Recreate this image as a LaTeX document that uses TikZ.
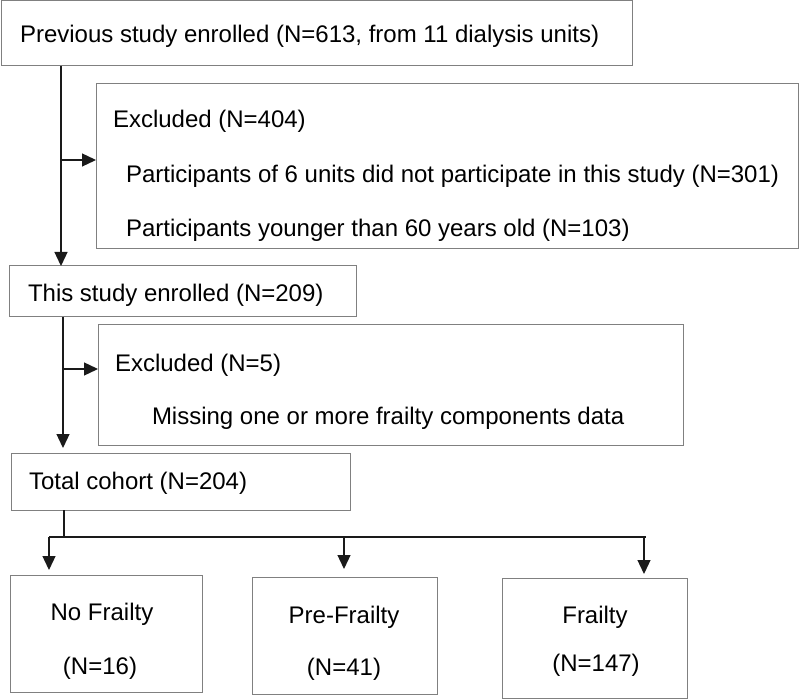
\documentclass[tikz,border=0pt]{standalone}
\usepackage{fontspec}
\setmainfont{Liberation Sans}
\usetikzlibrary{arrows.meta}
\definecolor{boxgray}{HTML}{808080}
\definecolor{linec}{HTML}{1A1A1A}
\begin{document}
\begin{tikzpicture}[x=1pt,y=-1pt,
  box/.style={draw=boxgray, line width=1pt, inner sep=0pt, outer sep=0pt, anchor=north west},
  lbl/.style={anchor=base west, inner sep=0pt, outer sep=0pt, font=\fontsize{24}{28}\selectfont, text=black},
  clbl/.style={anchor=base, inner sep=0pt, outer sep=0pt, font=\fontsize{24}{28}\selectfont, text=black},
  conn/.style={line width=1.3pt, draw=linec},
  arr/.style={conn, -{Triangle[length=14pt,width=13pt]}}]
\useasboundingbox[fill=white] (0,0) rectangle (800,700);
% boxes
\node[box, minimum width=631pt, minimum height=65pt] (b1) at (1,1) {};
\node[box, minimum width=702pt, minimum height=165pt] (b2) at (96,84) {};
\node[box, minimum width=347pt, minimum height=51pt] (b3) at (9,266) {};
\node[box, minimum width=585pt, minimum height=120pt] (b4) at (98,325) {};
\node[box, minimum width=339pt, minimum height=57pt] (b5) at (11,453) {};
\node[box, minimum width=192pt, minimum height=117pt] (b6) at (10,575) {};
\node[box, minimum width=185pt, minimum height=117pt] (b7) at (252,577) {};
\node[box, minimum width=185pt, minimum height=120pt] (b8) at (502,578) {};
% texts
\node[lbl] (t1) at (20,43) {Previous study enrolled (N=613, from 11 dialysis units)};
\node[lbl] (t2) at (113,128) {Excluded (N=404)};
\node[lbl] (t3) at (126,183) {Participants of 6 units did not participate in this study (N=301)};
\node[lbl] (t4) at (126,237) {Participants younger than 60 years old (N=103)};
\node[lbl] (t5) at (28,302) {This study enrolled (N=209)};
\node[lbl] (t6) at (115,371) {Excluded (N=5)};
\node[lbl] (t7) at (152,424) {Missing one or more frailty components data};
\node[lbl] (t8) at (29,489) {Total cohort (N=204)};
\node[clbl] (t9) at (102,620) {No Frailty};
\node[clbl] (t10) at (100,674) {(N=16)};
\node[clbl] (t11) at (344,623) {Pre-Frailty};
\node[clbl] (t12) at (344,675) {(N=41)};
\node[clbl] (t13) at (595,623) {Frailty};
\node[clbl] (t14) at (596,671) {(N=147)};
% connector guides
\coordinate (xa) at (61,0);
\coordinate (xb) at (63,0);
\coordinate (xc) at (64,0);
\coordinate (ya) at (0,160);
\coordinate (yb) at (0,369);
\coordinate (bus) at (0,537);
\coordinate (d1) at (49,0);
\coordinate (d2) at (344,0);
\coordinate (d3) at (644,0);
\coordinate (be) at (646,0);
% connectors
\draw[arr] (xa |- b1.south) -- (xa |- b3.north);
\draw[arr] (xa |- ya) -- (b2.west |- ya);
\draw[arr, shorten >=5pt] (xb |- b3.south) -- (xb |- b5.north);
\draw[arr] (xb |- yb) -- (b4.west |- yb);
\draw[conn] (xc |- b5.south) -- (xc |- bus);
\draw[conn] (d1 |- bus) -- (be |- bus);
\draw[arr, shorten >=5pt] (d1 |- bus) -- (d1 |- b6.north);
\draw[arr, shorten >=8pt] (d2 |- bus) -- (d2 |- b7.north);
\draw[arr, shorten >=4pt] (d3 |- bus) -- (d3 |- b8.north);
\end{tikzpicture}
\end{document}
